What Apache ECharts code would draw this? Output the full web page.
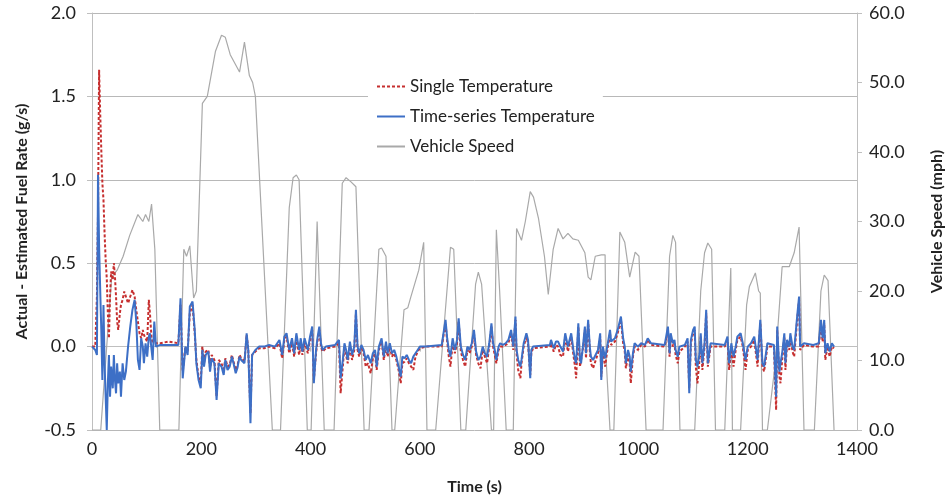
<!DOCTYPE html>
<html>
<head>
<meta charset="utf-8">
<title>Actual - Estimated Fuel Rate</title>
<script src="https://cdn.jsdelivr.net/npm/echarts@6/dist/echarts.min.js"></script>
<style>
  html, body { margin: 0; padding: 0; background: #fff; }
  #chart { width: 946px; height: 496px; }
</style>
</head>
<body>
<div id="chart"></div>
<script>
// Drive cycle (time in s)
var speedTime = [0, 16, 36, 46, 57, 69, 84, 93, 98, 104, 109, 115, 124, 159, 168, 173, 179, 186, 191,
  202, 211, 226, 237, 244, 253, 270, 279, 288, 294, 299, 330, 345, 361, 368, 374, 379, 394, 401,
  412, 425, 443, 458, 465, 474, 483, 498, 507, 525, 530, 538, 549, 554, 571, 578, 583, 598, 607,
  613, 629, 656, 662, 675, 684, 702, 707, 713, 731, 735, 740, 746, 758, 771, 777, 786, 793, 802,
  808, 817, 828, 835, 844, 853, 862, 871, 880, 890, 902, 908, 913, 921, 932, 939, 941, 948, 955,
  966, 975, 984, 994, 1001, 1014, 1045, 1057, 1063, 1068, 1076, 1103, 1114, 1121, 1127, 1134,
  1141, 1158, 1169, 1172, 1187, 1198, 1203, 1214, 1220, 1223, 1227, 1236, 1251, 1263, 1276,
  1285, 1294, 1303, 1322, 1334, 1340, 1347, 1358];
var speedMph = [0, 0, 22, 23, 25, 28, 31, 30, 31, 30, 32.5, 26, 0, 0, 26, 25, 26.5, 19, 20,
  47, 48, 54.5, 56.8, 56.5, 54, 51.5, 55.8, 51, 50, 48, 0, 0, 32, 36.3, 36.7, 36, 0, 0,
  30, 0, 0, 35.5, 36.3, 35.7, 35, 0, 0, 26, 26.2, 25, 0, 0, 17.3, 17.6, 19, 23, 27,
  0, 0, 26.3, 26, 0, 0, 21, 22.7, 21, 0, 0, 28.8, 20, 0, 0, 29, 27.3, 30, 34.3,
  33.5, 30.5, 25, 19.5, 26, 29, 27.5, 28.3, 27.5, 27.3, 25.5, 22, 21.6, 25, 25.2, 25.2, 10, 0, 0,
  28.5, 27, 22, 25.6, 25, 0, 0, 25, 28, 27, 0, 0, 20, 25.5, 26.9, 26,
  0, 0, 23.3, 0, 0, 18, 20.6, 22.6, 20, 19.7, 0, 0, 10, 23.5, 23.5,
  25.5, 29.2, 0, 0, 20, 22.3, 21.5, 0];

// Fuel rate error (g/s) for both temperature models, shared time base
var tempTime = [0, 6, 9, 11, 13, 15, 17, 19, 21, 23, 25, 27, 29, 31, 33, 35, 38, 40, 42, 44, 46, 48,
  51, 53, 56, 59, 62, 66, 70, 74, 78, 81, 84, 87, 90, 93, 95, 98, 101, 104, 106, 109, 111, 114,
  117, 125, 140, 158, 162, 166, 171, 175, 179, 184, 188, 191, 195, 199, 202, 205, 208, 213, 216,
  219, 224, 228, 232, 237, 241, 244, 248, 252, 256, 259, 263, 266, 270, 273, 279, 283, 286, 290,
  293, 299, 306, 315, 324, 335, 343, 348, 352, 356, 361, 366, 370, 374, 379, 382, 385, 389, 392,
  395, 399, 403, 406, 410, 413, 416, 419, 422, 428, 445, 452, 455, 459, 462, 465, 468, 472, 476,
  480, 483, 486, 489, 493, 497, 501, 505, 510, 514, 518, 521, 525, 530, 534, 538, 541, 545, 549,
  553, 557, 561, 565, 568, 572, 576, 580, 584, 588, 592, 596, 600, 611, 640, 647, 650, 653, 656,
  660, 664, 668, 671, 675, 679, 683, 687, 691, 695, 699, 703, 707, 711, 715, 719, 723, 727, 731,
  734, 737, 740, 744, 747, 752, 757, 762, 767, 771, 775, 777, 780, 784, 786, 790, 795, 798, 802,
  804, 807, 838, 840, 845, 849, 853, 857, 862, 866, 871, 877, 881, 884, 886, 890, 893, 895, 899,
  902, 904, 908, 911, 913, 917, 920, 926, 930, 932, 935, 939, 944, 948, 950, 957, 962, 968, 972,
  975, 977, 981, 984, 986, 990, 993, 999, 1005, 1012, 1017, 1023, 1048, 1054, 1057, 1059, 1063,
  1066, 1068, 1072, 1075, 1078, 1085, 1090, 1093, 1096, 1100, 1103, 1105, 1108, 1112, 1114, 1117,
  1121, 1124, 1127, 1132, 1158, 1163, 1166, 1170, 1174, 1178, 1181, 1187, 1191, 1194, 1196, 1200,
  1206, 1212, 1218, 1223, 1227, 1230, 1236, 1248, 1252, 1254, 1258, 1260, 1263, 1267, 1269, 1272,
  1276, 1278, 1282, 1285, 1291, 1294, 1296, 1303, 1320, 1330, 1334, 1337, 1340, 1342, 1346, 1350,
  1354, 1358];
var seriesTemp = [0.00, -0.02, -0.05, 1.03, 0.60, 0.34, 0.10, -0.20, 0.25, -0.10, -0.30, -0.50, -0.22,
  -0.05, -0.30, -0.12, -0.25, -0.05, -0.20, -0.28, -0.10, -0.22, -0.15, -0.30, -0.10, -0.20, -0.15,
  0.00, 0.12, 0.22, 0.28, 0.15, -0.08, -0.14, 0.05, 0.00, -0.10, 0.02, -0.06, 0.06, 0.08, -0.02,
  -0.08, 0.15, 0.00, 0.01, 0.01, 0.01, 0.29, -0.19, 0.00, -0.05, 0.24, 0.27, 0.10, -0.10, -0.20,
  -0.25, -0.02, -0.12, -0.05, -0.03, -0.15, -0.07, -0.10, -0.32, -0.10, -0.12, -0.17, -0.08,
  -0.14, -0.12, -0.06, -0.10, -0.16, -0.13, -0.06, -0.08, -0.10, 0.08, -0.02, -0.46, -0.05, -0.02,
  0.00, 0.00, 0.01, 0.00, 0.04, -0.05, 0.06, 0.08, -0.02, 0.05, -0.04, 0.08, -0.02, 0.05, -0.03,
  0.05, 0.04, -0.02, 0.06, 0.12, -0.22, -0.02, 0.06, 0.12, 0.02, -0.02, 0.00, 0.01, 0.04, -0.19,
  -0.08, 0.02, -0.02, -0.08, 0.03, -0.05, 0.00, 0.22, 0.00, -0.04, 0.01, -0.02, -0.08, -0.05,
  -0.10, -0.04, -0.02, -0.12, 0.00, 0.05, -0.06, 0.03, -0.04, 0.02, -0.04, -0.02, -0.06, -0.12,
  -0.18, -0.06, -0.07, -0.05, -0.08, -0.10, -0.06, -0.04, -0.02, 0.00, 0.00, 0.01, 0.16, 0.05,
  -0.02, -0.06, 0.05, -0.02, 0.04, 0.17, 0.00, -0.05, -0.08, 0.00, -0.02, 0.02, 0.10, -0.03,
  -0.08, -0.06, 0.00, -0.04, -0.06, 0.02, 0.14, 0.02, -0.02, -0.08, 0.00, 0.02, 0.01, 0.02, 0.04,
  0.10, 0.00, 0.18, -0.02, -0.08, -0.12, -0.08, 0.02, 0.08, 0.04, -0.19, -0.02, 0.00, 0.01, 0.04,
  -0.01, 0.03, 0.03, 0.00, -0.03, 0.08, 0.00, 0.08, -0.02, -0.08, -0.10, 0.14, -0.08, -0.10, 0.02,
  0.12, -0.04, 0.16, 0.00, -0.06, -0.08, -0.08, -0.02, 0.08, -0.20, 0.00, -0.07, 0.02, 0.10, 0.03,
  0.05, 0.10, 0.18, 0.05, 0.00, -0.10, -0.02, -0.06, -0.15, -0.04, 0.02, 0.00, 0.02, 0.01, 0.05,
  0.02, 0.01, 0.12, -0.04, 0.08, 0.02, 0.04, -0.02, -0.06, 0.00, 0.00, 0.01, 0.05, -0.28, 0.04,
  0.10, 0.12, -0.08, -0.12, -0.04, 0.08, -0.10, 0.02, 0.22, -0.10, 0.02, 0.01, 0.06, -0.10, 0.02,
  -0.06, 0.00, 0.06, 0.08, 0.02, -0.04, -0.08, 0.00, 0.02, 0.06, -0.08, 0.16, -0.10, -0.12, 0.02,
  0.01, -0.30, 0.12, -0.15, -0.10, -0.04, 0.08, -0.10, 0.04, 0.00, 0.08, 0.00, -0.02, 0.20, 0.30,
  0.00, 0.02, 0.01, 0.02, 0.16, 0.05, 0.16, -0.04, 0.02, -0.03, 0.02, 0.00];
var singleTemp = [0.00, 0.00, 0.30, 0.80, 1.66, 1.40, 1.18, 0.98, 0.88, 0.68, 0.52, 0.41, 0.20,
  0.05, 0.30, 0.45, 0.40, 0.50, 0.42, 0.30, 0.15, 0.10, 0.20, 0.25, 0.28, 0.33, 0.30,
  0.26, 0.30, 0.34, 0.30, 0.22, 0.15, 0.08, 0.05, 0.10, 0.07, 0.05, 0.03, 0.28, 0.20, 0.05,
  0.02, 0.04, 0.02, 0.02, 0.03, 0.02, 0.25, -0.15, 0.00, -0.03, 0.20, 0.25, 0.08, -0.08, -0.18,
  -0.22, 0.00, -0.10, -0.03, -0.02, -0.13, -0.05, -0.08, -0.30, -0.08, -0.10, -0.15, -0.07,
  -0.12, -0.11, -0.05, -0.09, -0.14, -0.12, -0.05, -0.07, -0.09, 0.07, -0.02, -0.40, -0.05, -0.03,
  -0.01, -0.01, 0.00, -0.01, 0.02, -0.07, 0.04, 0.06, -0.04, 0.02, -0.06, 0.05, -0.05, 0.02, -0.05,
  0.03, 0.02, -0.04, 0.04, 0.10, -0.20, -0.04, 0.04, 0.10, 0.00, -0.03, -0.01, 0.00, 0.02, -0.28,
  -0.12, 0.00, -0.05, -0.10, 0.00, -0.08, -0.02, 0.20, -0.02, -0.06, 0.00, -0.04, -0.12, -0.10,
  -0.16, -0.07, -0.04, -0.14, -0.02, 0.03, -0.08, 0.01, -0.06, 0.00, -0.06, -0.04, -0.08, -0.14,
  -0.22, -0.10, -0.09, -0.07, -0.10, -0.12, -0.14, -0.06, -0.03, -0.01, 0.00, 0.00, 0.14, 0.03,
  -0.06, -0.12, 0.02, -0.04, 0.02, 0.15, -0.03, -0.08, -0.12, -0.02, -0.04, 0.00, 0.08, -0.05,
  -0.10, -0.13, -0.02, -0.06, -0.10, 0.00, 0.12, 0.00, -0.05, -0.10, -0.02, 0.00, 0.00, 0.01, 0.02,
  0.08, -0.02, 0.16, -0.04, -0.14, -0.19, -0.10, 0.00, 0.06, 0.02, -0.17, -0.04, -0.01, 0.00, 0.02,
  -0.03, 0.01, 0.00, -0.05, -0.06, 0.06, -0.03, 0.06, -0.05, -0.12, -0.19, 0.12, -0.12, -0.13, 0.00,
  0.10, -0.07, 0.14, -0.02, -0.10, -0.13, -0.10, -0.04, 0.06, -0.18, -0.02, -0.12, 0.00, 0.08, 0.01,
  0.03, 0.08, 0.16, 0.02, -0.03, -0.13, -0.05, -0.10, -0.22, -0.06, 0.00, -0.02, 0.01, 0.00, 0.04,
  0.01, 0.00, 0.10, -0.06, 0.06, 0.00, 0.02, -0.05, -0.10, -0.03, -0.02, 0.00, 0.03, -0.25, 0.02,
  0.08, 0.10, -0.12, -0.22, -0.07, 0.06, -0.14, 0.00, 0.20, -0.12, 0.00, 0.00, 0.04, -0.14, 0.00,
  -0.12, -0.02, 0.04, 0.06, 0.00, -0.08, -0.14, -0.02, 0.00, 0.04, -0.12, 0.14, -0.12, -0.15, 0.00,
  0.00, -0.38, 0.10, -0.18, -0.22, -0.08, 0.06, -0.14, 0.02, -0.02, 0.06, -0.03, -0.06, 0.18, 0.28,
  -0.02, 0.01, 0.00, 0.00, 0.14, 0.03, 0.14, -0.08, 0.00, -0.06, 0.00, -0.01];

(function () {
  'use strict';

  function pairs(xs, ys) {
    return xs.map(function (x, i) { return [x, ys[i]]; });
  }

  var chart = echarts.init(document.getElementById('chart'));
  var textColor = '#222222';
  var axisGray = '#bfbfbf';
  var font = 'Lato, "Open Sans", sans-serif';

  var option = {
    animation: false,
    backgroundColor: '#ffffff',
    textStyle: { fontFamily: font },
    grid: { left: 92, right: 89, top: 13, bottom: 66, outerBoundsMode: 'none' },
    legend: {
      orient: 'vertical',
      left: 368,
      top: 72,
      itemWidth: 28,
      itemHeight: 14,
      itemGap: 13,
      padding: [6, 8, 6, 8],
      backgroundColor: '#ffffff',
      // line-only icons, no marker dot
      itemStyle: { opacity: 0 },
      textStyle: { fontFamily: font, fontSize: 17, color: textColor },
      data: ['Single Temperature', 'Time-series Temperature', 'Vehicle Speed']
    },
    xAxis: {
      type: 'value',
      min: 0,
      max: 1400,
      interval: 200,
      name: 'Time (s)',
      nameLocation: 'middle',
      nameGap: 49,
      nameTextStyle: { fontFamily: font, fontSize: 16, fontWeight: 'bold', color: textColor },
      axisLine: { show: true, lineStyle: { color: axisGray } },
      axisTick: { show: true, length: 5, lineStyle: { color: axisGray } },
      axisLabel: {
        fontSize: 18, color: textColor, margin: 10,
        formatter: function (v) { return String(v); }
      },
      splitLine: { show: false }
    },
    yAxis: [
      {
        type: 'value',
        min: -0.5,
        max: 2.0,
        interval: 0.5,
        name: 'Actual - Estimated Fuel Rate (g/s)',
        nameLocation: 'middle',
        nameGap: 62,
        nameTextStyle: { fontFamily: font, fontSize: 16, fontWeight: 'bold', color: textColor },
        axisLine: { show: true, lineStyle: { color: axisGray } },
        axisTick: { show: true, length: 5, lineStyle: { color: axisGray } },
        axisLabel: {
          fontSize: 18, color: textColor, margin: 16,
          formatter: function (v) { return v.toFixed(1); }
        },
        splitLine: { show: true, lineStyle: { color: '#b8b8b8', width: 1 } }
      },
      {
        type: 'value',
        min: 0,
        max: 60,
        interval: 10,
        name: 'Vehicle Speed (mph)',
        nameLocation: 'middle',
        nameGap: 72,
        nameRotate: 90,
        nameTextStyle: { fontFamily: font, fontSize: 16, fontWeight: 'bold', color: textColor },
        axisLine: { show: true, lineStyle: { color: axisGray } },
        axisTick: { show: true, length: 5, lineStyle: { color: axisGray } },
        axisLabel: {
          fontSize: 18, color: textColor, margin: 12,
          formatter: function (v) { return v.toFixed(1); }
        },
        splitLine: { show: false }
      }
    ],
    series: [
      {
        name: 'Vehicle Speed',
        type: 'line',
        yAxisIndex: 1,
        data: pairs(speedTime, speedMph),
        symbol: 'none',
        z: 1,
        lineStyle: { color: '#a9a9a9', width: 1.2 },
        itemStyle: { color: '#a9a9a9' }
      },
      {
        name: 'Single Temperature',
        type: 'line',
        yAxisIndex: 0,
        data: pairs(tempTime, singleTemp),
        symbol: 'none',
        z: 2,
        lineStyle: { color: '#c62f2f', width: 2, type: [3, 2] },
        itemStyle: { color: '#c62f2f' }
      },
      {
        name: 'Time-series Temperature',
        type: 'line',
        yAxisIndex: 0,
        data: pairs(tempTime, seriesTemp),
        symbol: 'none',
        z: 3,
        lineStyle: { color: '#3d6fc6', width: 2 },
        itemStyle: { color: '#3d6fc6' }
      }
    ]
  };

  chart.setOption(option);
})();
</script>
</body>
</html>
